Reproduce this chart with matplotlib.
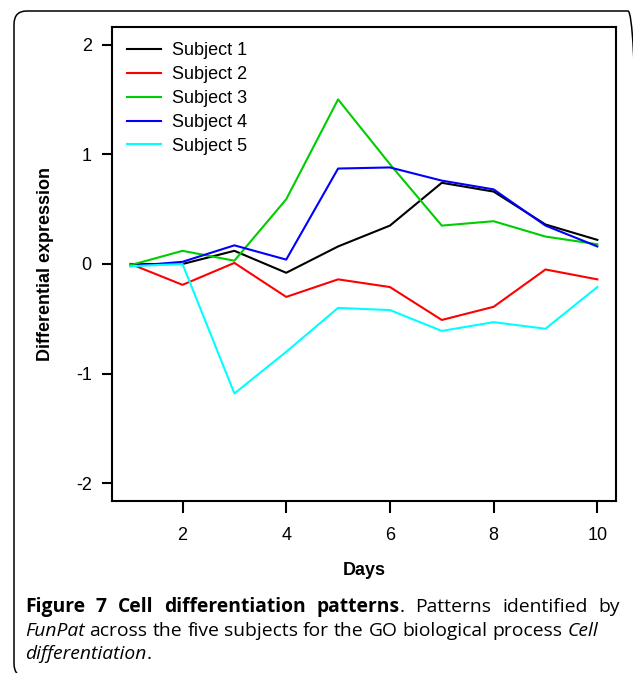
import matplotlib
matplotlib.use("Agg")
import matplotlib.pyplot as plt
from matplotlib.patches import FancyBboxPatch

days = [1, 2, 3, 4, 5, 6, 7, 8, 9, 10]
subject1 = [0.00, 0.00, 0.12, -0.08, 0.16, 0.35, 0.74, 0.66, 0.36, 0.22]
subject2 = [0.00, -0.19, 0.01, -0.30, -0.14, -0.21, -0.51, -0.39, -0.05, -0.14]
subject3 = [-0.01, 0.12, 0.03, 0.59, 1.50, 0.91, 0.35, 0.39, 0.25, 0.18]
subject4 = [-0.02, 0.02, 0.17, 0.04, 0.87, 0.88, 0.76, 0.68, 0.35, 0.16]
subject5 = [-0.02, 0.00, -1.18, -0.80, -0.40, -0.42, -0.61, -0.53, -0.59, -0.21]
labels = ["Subject 1", "Subject 2", "Subject 3", "Subject 4", "Subject 5"]
colors = ["#000000", "#ff0000", "#00cd00", "#0000ff", "#00ffff"]

W, H = 633, 673
fig = plt.figure(figsize=(W / 100, H / 100), dpi=100)
plt.rcParams['font.family'] = ['Liberation Sans', 'DejaVu Sans']

# outer rounded frame of the figure panel (right and bottom run off the image)
frame = FancyBboxPatch((14 / W, -4 / H), 0.99, (673 - 11 + 4) / H,
                       boxstyle="round,pad=0,rounding_size=0.02",
                       transform=fig.transFigure, fill=False,
                       edgecolor="black", linewidth=1.1, clip_on=False)
fig.patches.append(frame)

ax = fig.add_axes([112 / W, (H - 501) / H, (616 - 112) / W, (501 - 27) / H])
for ys, lab, c in zip([subject1, subject2, subject3, subject4, subject5], labels, colors):
    ax.plot(days, ys, color=c, linewidth=1.5, label=lab)

ax.set_xlim(0.64, 10.36)
ax.set_ylim(-2.16, 2.16)
ax.set_xticks([2, 4, 6, 8, 10])
ax.set_yticks([-2, -1, 0, 1, 2])
ax.set_yticklabels(["-2", "-1", "0", "1", "2"])
for s in ax.spines.values():
    s.set_linewidth(1.5)
ax.tick_params(direction='out', length=8.5, width=1.5, labelsize=13, pad=10)
ax.tick_params(axis='y', length=7.5, pad=7)

ax.set_xlabel("Days", fontsize=13, fontweight='bold', labelpad=13)
ax.set_ylabel("Differential expression", fontsize=13, fontweight='bold', labelpad=16)

ax.legend(loc='upper left', frameon=False, fontsize=13, handlelength=1.85,
          handletextpad=0.6, labelspacing=0.38, borderaxespad=0.45,
          bbox_to_anchor=(0.0, 1.0))

# caption, drawn word by word so the first line can be justified
cap = ['Open Sans', 'DejaVu Sans']
fs = 13.9
r = fig.canvas.get_renderer()

def words_of(parts):
    # each word gets a flag telling whether a space comes before it
    out = []
    prev_space = False
    for txt, weight, style in parts:
        chunks = txt.split(" ")
        for i, w in enumerate(chunks):
            if w == "":
                continue
            spaced = (i > 0) or prev_space
            out.append((w, weight, style, spaced))
        prev_space = txt.endswith(" ")
    return out

def put(parts, x0, y, x1=None):
    items = []
    for w, weight, style, spaced in words_of(parts):
        t = fig.text(0, 1 - y / H, w, fontsize=fs, family=cap,
                     fontweight=weight, fontstyle=style, va='center', ha='left')
        items.append((t, t.get_window_extent(renderer=r).width, spaced))
    sp = fig.text(0, 0, "a b", fontsize=fs, family=cap)
    spw = sp.get_window_extent(renderer=r).width
    sp.set_text("ab")
    spw -= sp.get_window_extent(renderer=r).width
    sp.remove()
    gaps = sum(1 for k, it in enumerate(items) if k > 0 and it[2])
    total = sum(it[1] for it in items) + gaps * spw
    if x1 is not None and gaps:
        spw += (x1 - x0 - total) / gaps
    x = x0
    for k, (t, w, spaced) in enumerate(items):
        if k > 0 and spaced:
            x += spw
        t.set_x(x / W)
        x += w

put([("Figure 7 Cell differentiation patterns", "bold", "normal"),
     (". Patterns identified by", "normal", "normal")], 25, 607, 620)
put([("FunPat", "normal", "italic"),
     (" across the five subjects for the GO biological process ", "normal", "normal"),
     ("Cell", "normal", "italic")], 25, 631)
put([("differentiation", "normal", "italic"), (".", "normal", "normal")], 25, 654)

fig.savefig("out.png", dpi=100)
